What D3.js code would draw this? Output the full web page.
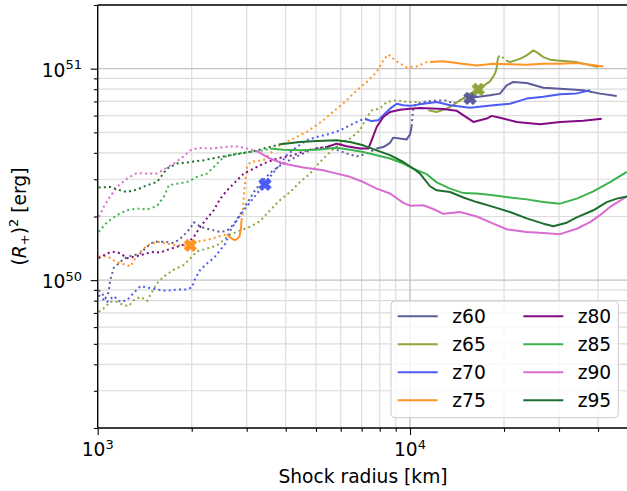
<!DOCTYPE html>
<html><head><meta charset="utf-8">
<script src="https://cdn.jsdelivr.net/npm/d3@7"></script>
<style>
html,body{margin:0;padding:0;background:#fff;}
svg{display:block;font-family:"DejaVu Sans",sans-serif;}
</style></head>
<body><svg id="chart" width="627" height="491"></svg>
<script>
// ---------- DATA (x: shock radius in km, y: energy in units of 1e50 erg) ----------
const Y_UNIT = 1e50;
const seriesNames = ["z60","z65","z70","z75","z80","z85","z90","z95"];
const xMajorTicks = [1e3, 1e4];
const xTickLabels = [["10","3"],["10","4"]];
const yMajorTicks = [1e50, 1e51];
const yTickLabels = [["10","50"],["10","51"]];

const z60Dotted1 = [[1007,0.897],[1032,0.866],[1058,0.820],[1084,0.880],[1097,1.0],[1125,1.14],[1181,1.22],[1241,1.29],[1304,1.31],[1369,1.34],[1439,1.44],[1511,1.52],[1627,1.52],[1752,1.50],[1838,1.57],[1908,1.66],[1980,1.76],[2030,1.88],[2131,1.79],[2239,1.75],[2352,1.72],[2470,1.69],[2594,1.71],[2726,1.84],[2860,2.05],[3006,2.31],[3189,2.66],[3383,2.97],[3614,3.27],[3892,3.53],[4282,3.81],[4713,4.07],[5150,4.26],[5681,4.19],[6272,3.97],[6750,3.85],[7267,3.97],[7822,4.19]];
const z60Solid1 = [[7822,4.19],[8212,4.26],[8630,4.46],[8842,4.72],[9290,4.67],[9759,4.63],[10000,4.89],[10125,5.34]];
const z60Dotted2 = [[10125,5.34],[10186,6.02],[10247,6.56],[10507,6.83],[11031,6.96],[12177,7.08],[13111,7.08],[13768,6.83],[14821,7.22],[15568,7.24]];
const z60Solid2 = [[15568,7.24],[16349,7.34],[18034,7.48],[19410,7.62],[20391,8.34],[21412,8.65],[23648,8.55],[26731,8.13],[30226,8.03],[35892,7.90],[40597,7.62],[45920,7.42]];

const z65Dotted1 = [[1007,0.708],[1045,0.735],[1097,0.790],[1153,0.790],[1211,0.762],[1257,0.754],[1304,0.804],[1369,0.834],[1439,0.798],[1492,0.880],[1548,0.965],[1627,1.04],[1752,1.12],[1886,1.18],[2004,1.29],[2080,1.37],[2239,1.41],[2410,1.46],[2533,1.55],[2627,1.63],[2862,1.72],[3080,1.79],[3309,1.90],[3562,2.14],[3835,2.39],[4128,2.61],[4444,2.91],[4784,3.19],[5150,3.62],[5543,4.04],[5970,4.42],[6427,4.67],[6918,5.11],[7177,5.70],[7540,6.35],[8017,6.47],[8421,6.96],[9067,7.08],[9759,6.96],[10507,6.96]];
const z65Solid1 = [[11445,6.35],[12177,6.24],[13111,6.47],[13435,6.59],[14463,7.08],[15568,7.62],[16543,7.98],[17600,8.50],[18034,8.71],[18708,9.47],[18942,10.03],[19025,10.71],[19166,11.34]];
const z65Dotted2 = [[19166,11.34],[19410,11.56],[19886,11.25],[20290,10.94]];
const z65Solid2 = [[20290,10.94],[20896,10.74],[22495,11.13],[23648,11.56],[24822,12.2],[25505,11.94],[26731,11.34],[28079,11.03],[30226,10.91],[34188,10.74],[40095,10.18]];

const z70Dotted = [[1007,0.849],[1032,0.820],[1071,0.790],[1125,0.840],[1181,0.790],[1241,0.804],[1304,0.871],[1369,0.937],[1439,0.924],[1548,0.904],[1667,0.890],[1795,0.904],[1932,0.904],[2004,0.924],[2054,1.02],[2131,1.12],[2239,1.20],[2352,1.27],[2470,1.39],[2563,1.49],[2658,1.72],[2793,1.92],[2935,2.14],[3080,2.34],[3236,2.57],[3433,2.84],[3562,3.08],[3743,3.37],[4029,3.90],[4337,4.26],[4669,4.59],[5026,4.75],[5543,4.93],[5970,5.11],[6427,5.40],[6918,5.70],[7177,5.78]];
const z70Solid = [[7177,5.78],[7540,5.65],[7915,5.70],[8212,6.02],[8630,6.47],[9067,6.83],[9518,6.71],[10000,6.67],[11031,6.83],[12177,6.96],[13435,6.71],[15568,6.54],[18475,6.71],[20896,6.83],[23648,7.22],[26731,7.36],[30226,7.56],[34188,7.64],[37713,7.90]];

const z75Dotted1 = [[1007,1.29],[1071,1.30],[1125,1.24],[1181,1.20],[1241,1.18],[1272,1.16],[1320,1.27],[1369,1.36],[1439,1.46],[1548,1.52],[1667,1.49],[1795,1.46],[1932,1.46],[2080,1.52],[2239,1.55],[2410,1.60],[2594,1.65]];
const z75Solid1 = [[2594,1.65],[2672,1.58],[2732,1.55],[2793,1.56],[2845,1.61],[2877,1.76],[2887,1.92]];
const z75Dotted2 = [[2887,1.92],[2913,2.03],[2935,2.47],[2970,2.97],[3006,3.43],[3080,3.62],[3236,3.66],[3400,3.69],[3743,4.26],[4128,4.59],[4669,5.02],[5277,5.70],[5826,6.47],[6272,7.08],[6750,7.90],[7267,8.65],[7822,9.64],[8212,10.94],[8520,11.68],[8842,11.15],[9290,10.56],[9759,10.14],[10507,10.25],[11311,10.74],[11588,10.74]];
const z75Solid2 = [[11588,10.74],[12786,10.83],[14463,10.59],[16349,10.36],[18475,10.56],[20896,10.48],[23648,10.44],[26731,10.56],[30226,10.56],[34188,10.63],[36803,10.48],[41600,10.25]];

const z80Dotted = [[1007,1.27],[1071,1.34],[1125,1.36],[1181,1.34],[1241,1.27],[1304,1.29],[1369,1.31],[1439,1.34],[1511,1.36],[1586,1.35],[1667,1.39],[1795,1.44],[1932,1.49],[2030,1.60],[2131,1.79],[2239,1.96],[2352,2.14],[2470,2.43],[2594,2.66],[2726,2.86],[2935,3.19],[3158,3.37],[3400,3.56],[3743,3.76],[4230,3.90],[4669,4.11],[5026,4.19],[5411,4.26]];
const z80Solid = [[5411,4.26],[5826,4.42],[6272,4.30],[6918,4.19],[7355,4.19],[7540,4.59],[7822,5.30],[8212,5.91],[8630,6.24],[9290,6.39],[10000,6.46],[10765,6.51],[12786,6.45],[14115,6.32],[15004,5.95],[15953,5.60],[17600,5.81],[18260,5.98],[19410,5.86],[21958,5.60],[26081,5.46],[30226,5.60],[35892,5.67],[41113,5.79]];

const z85Dotted = [[1007,1.69],[1071,1.88],[1153,2.03],[1241,2.14],[1336,2.18],[1439,2.16],[1548,2.24],[1627,2.47],[1688,2.81],[1795,2.86],[1932,2.91],[2080,3.08],[2239,3.19],[2352,3.43],[2533,3.82],[2793,3.97],[3080,4.04],[3400,4.11],[3562,4.19]];
const z85Solid = [[3562,4.19],[3929,4.14],[4444,4.11],[5026,4.14],[5826,4.23],[6427,4.14],[7088,4.04],[7822,3.90],[8630,3.76],[9518,3.56],[10247,3.37],[11311,3.17],[12177,2.90],[13435,2.71],[14821,2.58],[16349,2.57],[18475,2.52],[20896,2.46],[23648,2.41],[26731,2.34],[30226,2.30],[34188,2.43],[38644,2.63],[43710,2.91],[49410,3.25]];

const z90Dotted = [[1010,1.99],[1045,2.22],[1084,2.43],[1153,2.76],[1241,3.02],[1336,3.21],[1439,3.19],[1548,3.19],[1646,3.37],[1752,3.56],[1886,3.85],[1980,4.11],[2106,4.22],[2294,4.19],[2533,4.26],[2726,4.30],[2935,4.23],[3158,4.11],[3236,4.07]];
const z90Solid = [[3236,4.07],[3562,3.76],[3929,3.56],[4553,3.41],[5277,3.31],[5826,3.19],[6427,3.08],[7088,2.91],[7822,2.71],[8630,2.57],[9518,2.32],[10000,2.25],[11031,2.26],[11875,2.17],[12786,2.06],[14463,2.10],[16349,2.00],[18475,1.85],[20391,1.74],[23648,1.69],[26731,1.67],[30226,1.65],[34188,1.75],[37713,1.88],[40597,2.03],[43710,2.22],[48190,2.43],[49550,2.49]];

const z95Dotted = [[1007,2.74],[1097,2.76],[1181,2.66],[1241,2.61],[1336,2.68],[1439,2.81],[1548,2.91],[1667,3.37],[1795,3.56],[1980,3.62],[2185,3.69],[2410,3.80],[2658,3.90],[2935,3.99],[3236,4.11],[3484,4.23],[3835,4.39]];
const z95Solid = [[3835,4.39],[4444,4.50],[5026,4.55],[5826,4.59],[6427,4.50],[7088,4.34],[7822,4.11],[8630,3.90],[9518,3.62],[10247,3.37],[10765,3.19],[11588,2.78],[12177,2.66],[13435,2.61],[14821,2.46],[16349,2.34],[18475,2.22],[20896,2.10],[23648,1.96],[26731,1.85],[28773,1.80],[31757,1.87],[34188,1.98],[38644,2.14],[42657,2.34],[45920,2.43],[49550,2.49]];

const markerPoints = [["z60",15568,7.24],["z65",16543,7.98],["z70",3433,2.84],["z75",1980,1.46]];

// ---------- STYLE ----------
const colors = {z60:"#5c5c9c", z65:"#8fa63c", z70:"#4c5cf7", z75:"#ff9424", z80:"#820a82", z85:"#3cb44e", z90:"#d86cd0", z95:"#1c6e2c"};
const segments = [
  ["z60","dot",z60Dotted1],["z60","solid",z60Solid1],["z60","dot",z60Dotted2],["z60","solid",z60Solid2],
  ["z65","dot",z65Dotted1],["z65","solid",z65Solid1],["z65","dot",z65Dotted2],["z65","solid",z65Solid2],
  ["z70","dot",z70Dotted],["z70","solid",z70Solid],
  ["z75","dot",z75Dotted1],["z75","solid",z75Solid1],["z75","dot",z75Dotted2],["z75","solid",z75Solid2],
  ["z80","dot",z80Dotted],["z80","solid",z80Solid],
  ["z85","dot",z85Dotted],["z85","solid",z85Solid],
  ["z90","dot",z90Dotted],["z90","solid",z90Solid],
  ["z95","dot",z95Dotted],["z95","solid",z95Solid]
];

const L = 97.7, R = 628.3, T = 5, B = 428;
const svg = d3.select("#chart");
const x = d3.scaleLog().domain([1e3, 5e4]).range([L, R]);
const y = d3.scaleLog().domain([2e49, 2e51]).range([B, T]);

function minorTicks(scale, lo, hi) {
  const out = [];
  for (let e = Math.floor(Math.log10(lo)); e <= Math.ceil(Math.log10(hi)); e++) {
    for (let m = 1; m < 10; m++) {
      const v = m * Math.pow(10, e);
      if (v >= lo * 0.9999 && v <= hi * 1.0001) out.push(v);
    }
  }
  return out;
}
const xAll = minorTicks(x, 1e3, 5e4);
const yAll = minorTicks(y, 2e49, 2e51);
const xMinor = xAll.filter(v => !xMajorTicks.includes(v));
const yMinor = yAll.filter(v => !yMajorTicks.some(t => Math.abs(t - v) / t < 1e-9));

svg.append("defs").append("clipPath").attr("id","clip")
  .append("rect").attr("x", L).attr("y", T).attr("width", R - L).attr("height", B - T);

// grid
const grid = svg.append("g");
grid.selectAll("line.vmin").data(xMinor).enter().append("line")
  .attr("x1", d => x(d)).attr("x2", d => x(d)).attr("y1", T).attr("y2", B)
  .attr("stroke", "#dcdcdc").attr("stroke-width", 1.2);
grid.selectAll("line.hmin").data(yMinor).enter().append("line")
  .attr("y1", d => y(d)).attr("y2", d => y(d)).attr("x1", L).attr("x2", R)
  .attr("stroke", "#dcdcdc").attr("stroke-width", 1.2);
grid.selectAll("line.vmaj").data(xMajorTicks).enter().append("line")
  .attr("x1", d => x(d)).attr("x2", d => x(d)).attr("y1", T).attr("y2", B)
  .attr("stroke", "#c2c2c2").attr("stroke-width", 1.4);
grid.selectAll("line.hmaj").data(yMajorTicks).enter().append("line")
  .attr("y1", d => y(d)).attr("y2", d => y(d)).attr("x1", L).attr("x2", R)
  .attr("stroke", "#c2c2c2").attr("stroke-width", 1.4);

// lines
const line = d3.line().x(d => x(d[0])).y(d => y(d[1] * Y_UNIT));
const plot = svg.append("g").attr("clip-path", "url(#clip)");
segments.forEach(([name, style, pts]) => {
  const p = plot.append("path").datum(pts).attr("d", line)
    .attr("fill", "none").attr("stroke", colors[name])
    .attr("stroke-linejoin", "round");
  if (style === "dot") {
    p.attr("stroke-width", 2).attr("stroke-dasharray", "2,3.2");
  } else {
    p.attr("stroke-width", 2);
  }
});

// X markers (filled cross)
const a = 6.6, w = 2.5;
const plusPts = [[-w,-a],[w,-a],[w,-w],[a,-w],[a,w],[w,w],[w,a],[-w,a],[-w,w],[-a,w],[-a,-w],[-w,-w]];
const xPath = "M" + plusPts.map(p => p.join(",")).join("L") + "Z";
plot.selectAll("path.mk").data(markerPoints).enter().append("path")
  .attr("d", xPath)
  .attr("transform", d => `translate(${x(d[1])},${y(d[2] * Y_UNIT)}) rotate(45)`)
  .attr("fill", d => colors[d[0]]).attr("stroke", d => colors[d[0]]).attr("stroke-width", 0.5);

// axes
const FS = 18.67, SUP = 13;
const xAxisMaj = d3.axisBottom(x).tickValues(xMajorTicks).tickSize(7).tickFormat("");
const xAxisMin = d3.axisBottom(x).tickValues(xMinor).tickSize(3.8).tickFormat("");
const yAxisMaj = d3.axisLeft(y).tickValues(yMajorTicks).tickSize(7).tickFormat("");
const yAxisMin = d3.axisLeft(y).tickValues(yMinor).tickSize(3.8).tickFormat("");
function styleAxis(g) {
  g.select(".domain").remove();
  g.selectAll(".tick line").attr("stroke", "#000").attr("stroke-width", 1.1);
}
svg.append("g").attr("transform", `translate(0,${B})`).call(xAxisMaj).call(styleAxis);
svg.append("g").attr("transform", `translate(0,${B})`).call(xAxisMin).call(styleAxis);
svg.append("g").attr("transform", `translate(${L},0)`).call(yAxisMaj).call(styleAxis);
svg.append("g").attr("transform", `translate(${L},0)`).call(yAxisMin).call(styleAxis);

// spines
svg.append("line").attr("x1", L).attr("x2", L).attr("y1", T).attr("y2", B).attr("stroke", "#000").attr("stroke-width", 1.3);
svg.append("line").attr("x1", L).attr("x2", R).attr("y1", B).attr("y2", B).attr("stroke", "#000").attr("stroke-width", 1.3);
svg.append("line").attr("x1", L).attr("x2", R).attr("y1", T).attr("y2", T).attr("stroke", "#000").attr("stroke-width", 1.3);
svg.append("line").attr("x1", R).attr("x2", R).attr("y1", T).attr("y2", B).attr("stroke", "#000").attr("stroke-width", 1.3);

// tick labels
xMajorTicks.forEach((v, i) => {
  const t = svg.append("text").attr("x", x(v)).attr("y", 455.8).attr("text-anchor", "middle")
    .attr("font-size", FS).attr("fill", "#000");
  t.append("tspan").text(xTickLabels[i][0]);
  t.append("tspan").attr("font-size", SUP).attr("dy", -7).text(xTickLabels[i][1]);
});
yMajorTicks.forEach((v, i) => {
  const t = svg.append("text").attr("x", 82).attr("y", y(v) + 8.3).attr("text-anchor", "end")
    .attr("font-size", FS).attr("fill", "#000");
  t.append("tspan").text(yTickLabels[i][0]);
  t.append("tspan").attr("font-size", SUP).attr("dy", -7.5).text(yTickLabels[i][1]);
});

// axis titles
svg.append("text").attr("x", (L + R) / 2).attr("y", 483).attr("text-anchor", "middle")
  .attr("font-size", FS).text("Shock radius [km]");
const yl = svg.append("text").attr("transform", `translate(25.6,${(T + B) / 2}) rotate(-90)`)
  .attr("text-anchor", "middle").attr("font-size", FS);
yl.append("tspan").text("(");
yl.append("tspan").attr("font-style", "italic").text("R");
yl.append("tspan").attr("font-size", SUP).attr("dy", 3.5).text("+");
yl.append("tspan").attr("dy", -3.5).text(")");
yl.append("tspan").attr("font-size", SUP).attr("dy", -7.5).text("2");
yl.append("tspan").attr("dy", 7.5).text("\u00a0[erg]");

// legend
const lg = svg.append("g");
lg.append("rect").attr("x", 391).attr("y", 301).attr("width", 227.3).attr("height", 116.7)
  .attr("rx", 4).attr("fill", "#fff").attr("fill-opacity", 0.8).attr("stroke", "#cccccc").attr("stroke-width", 1);
seriesNames.forEach((n, i) => {
  const col = Math.floor(i / 4), row = i % 4;
  const lx = col === 0 ? 397.7 : 523.3;
  const tx = col === 0 ? 452.3 : 577.7;
  const ly = 316.3 + row * 28;
  lg.append("line").attr("x1", lx).attr("x2", lx + 40).attr("y1", ly).attr("y2", ly)
    .attr("stroke", colors[n]).attr("stroke-width", 2);
  lg.append("text").attr("x", tx).attr("y", ly + 6.7).attr("font-size", FS).text(n);
});
</script></body></html>
